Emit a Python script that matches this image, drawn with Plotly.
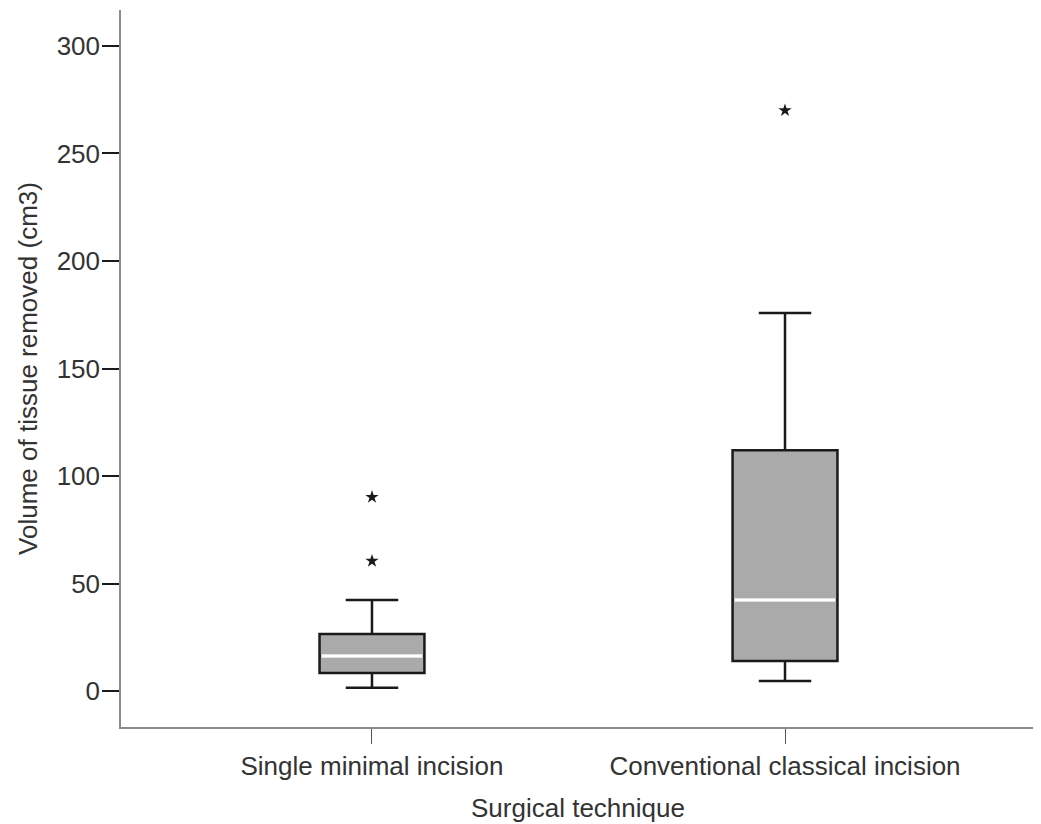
import plotly.graph_objects as go

categories = ["Single minimal incision", "Conventional classical incision"]
q1 = [8.4, 14.0]
median = [16.3, 42.3]
q3 = [26.5, 112.0]
lower_whisker = [1.5, 4.7]
upper_whisker = [42.3, 175.8]
outliers = [[60.5, 90.2], [270.0]]
y_ticks = [0, 50, 100, 150, 200, 250, 300]

positions = list(range(len(categories)))
box_w = 0.254

fig = go.Figure()
for i, cat in enumerate(categories):
    fig.add_trace(go.Box(
        x=[positions[i]], q1=[q1[i]], median=[median[i]], q3=[q3[i]],
        lowerfence=[lower_whisker[i]], upperfence=[upper_whisker[i]],
        width=box_w, whiskerwidth=0.5,
        fillcolor="#aaaaaa", line=dict(color="#1a1a1a", width=2.5),
        boxpoints=False, showlegend=False, hoverinfo="skip", name=cat,
    ))
    fig.add_trace(go.Scatter(
        x=[positions[i] - box_w / 2 + 0.004, positions[i] + box_w / 2 - 0.004],
        y=[median[i], median[i]], mode="lines",
        line=dict(color="white", width=3.5), showlegend=False, hoverinfo="skip",
    ))
    fig.add_trace(go.Scatter(
        x=[positions[i]] * len(outliers[i]), y=outliers[i], mode="markers",
        marker=dict(symbol="star", size=10, color="#1a1a1a", line=dict(width=0)),
        showlegend=False, hoverinfo="skip",
    ))

font = "Liberation Sans, Arial, sans-serif"
fig.update_layout(
    width=1033, height=816,
    margin=dict(l=113, r=6, t=2, b=97),
    paper_bgcolor="white", plot_bgcolor="white",
    font=dict(family=font, size=26, color="#333333"),
    xaxis=dict(
        range=[-0.6077, 1.6053], tickvals=positions, ticktext=categories,
        automargin=False,
        showline=True, linecolor="#8a8a8a", linewidth=1.5,
        ticks="outside", ticklen=15, tickcolor="#555555", tickwidth=1,
        showgrid=False, zeroline=False,
        title=dict(text="Surgical technique", standoff=19,
                   font=dict(size=26, color="#333333")),
        tickfont=dict(size=26, color="#333333"),
    ),
    yaxis=dict(
        range=[-16.7, 316.7], tickvals=y_ticks,
        automargin=False,
        showline=True, linecolor="#8a8a8a", linewidth=1.5,
        ticks="outside", ticklen=17, tickcolor="#1a1a1a", tickwidth=2,
        ticklabelstandoff=-3,
        showgrid=False, zeroline=False,
        title=dict(text="Volume of tissue removed (cm3)", standoff=12,
                   font=dict(size=26, color="#333333")),
        tickfont=dict(size=26, color="#333333"),
    ),
)

fig.write_html("out.html")
